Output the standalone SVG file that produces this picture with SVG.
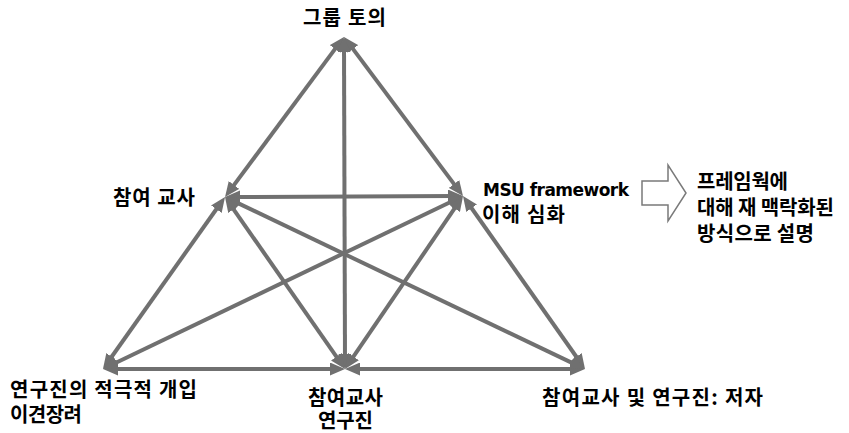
<svg xmlns="http://www.w3.org/2000/svg" width="849" height="433" viewBox="0 0 849 433">
<style>
.edge{stroke:#707070;stroke-width:4;fill:none;marker-start:url(#ah);marker-end:url(#ah)}
.lbl{font-family:'DejaVu Sans','Noto Sans CJK KR',sans-serif;font-size:17px;font-weight:bold;fill:#000}
.ko{font-family:'Noto Sans CJK KR','DejaVu Sans',sans-serif;font-size:20px;font-weight:bold;fill:#000}
</style>
<defs>
<marker id="ah" markerUnits="userSpaceOnUse" markerWidth="15" markerHeight="13" viewBox="0 0 15 13" refX="7" refY="6.5" orient="auto-start-reverse">
<path d="M0,0 L15,6.5 L0,13 z" fill="#707070"/>
</marker>
</defs>
<rect width="849" height="433" fill="#fff"/>
<g id="connectors">
<line class="edge" x1="339.2" y1="43.4" x2="229.8" y2="190.6"/>
<line class="edge" x1="348.8" y1="43.4" x2="458.2" y2="189.6"/>
<line class="edge" x1="344" y1="45" x2="345" y2="361"/>
<line class="edge" x1="233" y1="197" x2="455" y2="196"/>
<line class="edge" x1="220.4" y1="203.5" x2="107.6" y2="362.5"/>
<line class="edge" x1="467.6" y1="202.5" x2="580.4" y2="362.5"/>
<line class="edge" x1="111" y1="369" x2="337" y2="369"/>
<line class="edge" x1="353" y1="369" x2="577" y2="369"/>
<line class="edge" x1="110.2" y1="365.5" x2="455.8" y2="199.5"/>
<line class="edge" x1="232.2" y1="200.4" x2="577.8" y2="365.6"/>
<line class="edge" x1="229.6" y1="203.6" x2="340.4" y2="362.4"/>
<line class="edge" x1="458.5" y1="202.6" x2="349.5" y2="362.4"/>
</g>
<g id="node-top"><text class="ko" x="303" y="25" textLength="83" lengthAdjust="spacing">그룹 토의</text></g>
<g id="node-left"><text class="ko" x="113" y="205" textLength="82" lengthAdjust="spacing">참여 교사</text></g>
<g id="node-right">
<text class="lbl"><tspan x="483" y="196" textLength="146" lengthAdjust="spacing">MSU framework</tspan><tspan class="ko" x="482" y="222" textLength="83" lengthAdjust="spacing">이해 심화</tspan></text>
</g>
<g id="block-arrow"><polygon points="642,181 668,181 668,165 686,193 668,221 668,205 642,205" fill="#fff" stroke="#7a7a7a" stroke-width="1.5"/></g>
<g id="note">
<text class="ko"><tspan x="697" y="189" textLength="91" lengthAdjust="spacing">프레임웍에</tspan><tspan x="697" y="215" textLength="137" lengthAdjust="spacing">대해 재 맥락화된</tspan><tspan x="697" y="241" textLength="117" lengthAdjust="spacing">방식으로 설명</tspan></text>
</g>
<g id="node-bottom-left">
<text class="ko"><tspan x="10" y="397" textLength="187" lengthAdjust="spacing">연구진의 적극적 개입</tspan><tspan x="10" y="422" textLength="72" lengthAdjust="spacing">이견장려</tspan></text>
</g>
<g id="node-bottom-mid">
<text class="ko"><tspan x="308" y="405" textLength="75" lengthAdjust="spacing">참여교사</tspan><tspan x="318" y="428" textLength="55" lengthAdjust="spacing">연구진</tspan></text>
</g>
<g id="node-bottom-right"><text class="ko" x="542" y="405" textLength="221" lengthAdjust="spacing">참여교사 및 연구진: 저자</text></g>
</svg>
